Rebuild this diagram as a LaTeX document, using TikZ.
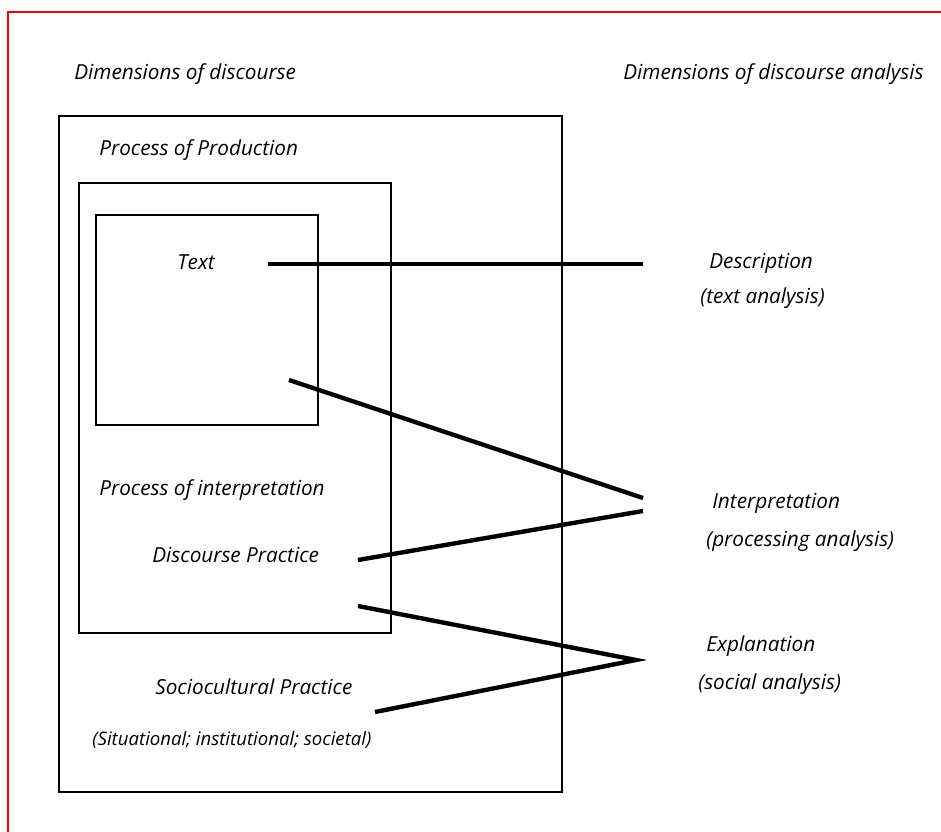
\documentclass[tikz,border=0pt]{standalone}
\usepackage{fontspec}
\setmainfont{Open Sans}
\usetikzlibrary{calc}
\tikzset{
  lbl/.style={font=\itshape\fontsize{11.8}{13}\selectfont, inner sep=0pt, anchor=west},
  boxline/.style={line width=1pt},
  link/.style={line width=2.5pt}
}

\begin{document}
\begin{tikzpicture}[x=0.02cm, y=-0.02cm]
			%%%%% START %%%%%
			\useasboundingbox (0, 0) rectangle (941, 832);
			
			% frame
			\draw[red, line width=1.4pt] (8, 832) -- (8, 12) -- (941, 12);
			
			% boxes
			\draw[boxline] (59, 116) rectangle (562, 792);
			\draw[boxline] (79, 183) rectangle (391, 633);
			\draw[boxline] (96, 215) rectangle (318, 425);
			
			% headings
			\node[lbl] (dimD) at (74, 74) {Dimensions of discourse};
			\node[lbl] (dimA) at (623, 74) {Dimensions of discourse analysis};
			
			% left side
			\node[lbl] (prod) at (99, 150) {Process of Production};
			\node[lbl] (text) at (177, 262) {Text};
			\node[lbl] (interp) at (99, 490) {Process of interpretation};
			\node[lbl] (dprac) at (152, 555) {Discourse Practice};
			\node[lbl] (sprac) at (155, 687) {Sociocultural Practice};
			\node[lbl, font=\itshape\fontsize{10.6}{12}\selectfont] (situ) at (92, 740) {(Situational; institutional; societal)};
			
			% right side
			\node[lbl] (desc) at (709, 263) {Description};
			\node[lbl] (descB) at (700, 298) {(text analysis)};
			\node[lbl] (intp) at (712, 503) {Interpretation};
			\node[lbl] (intpB) at (706, 541) {(processing analysis)};
			\node[lbl] (expl) at (706, 646) {Explanation};
			\node[lbl] (explB) at (698, 684) {(social analysis)};
			
			% link ends
			\coordinate (tA) at (268, 264);
			\coordinate (tB) at (643, 264);
			\coordinate (iA) at (289, 380);
			\coordinate (iB) at (643, 498);
			\coordinate (iC) at (643, 511);
			\coordinate (iD) at (358, 560);
			\coordinate (eA) at (358, 606);
			\coordinate (eB) at (636, 660);
			\coordinate (eC) at (375, 712);
			
			\draw[link] (tA) -- (tB);
			\draw[link] (iA) -- (iB);
			\draw[link] (iD) -- (iC);
			\draw[link, line join=miter] (eA) -- (eB) -- (eC);
			%%%%% END %%%%%
\end{tikzpicture}
\end{document}
